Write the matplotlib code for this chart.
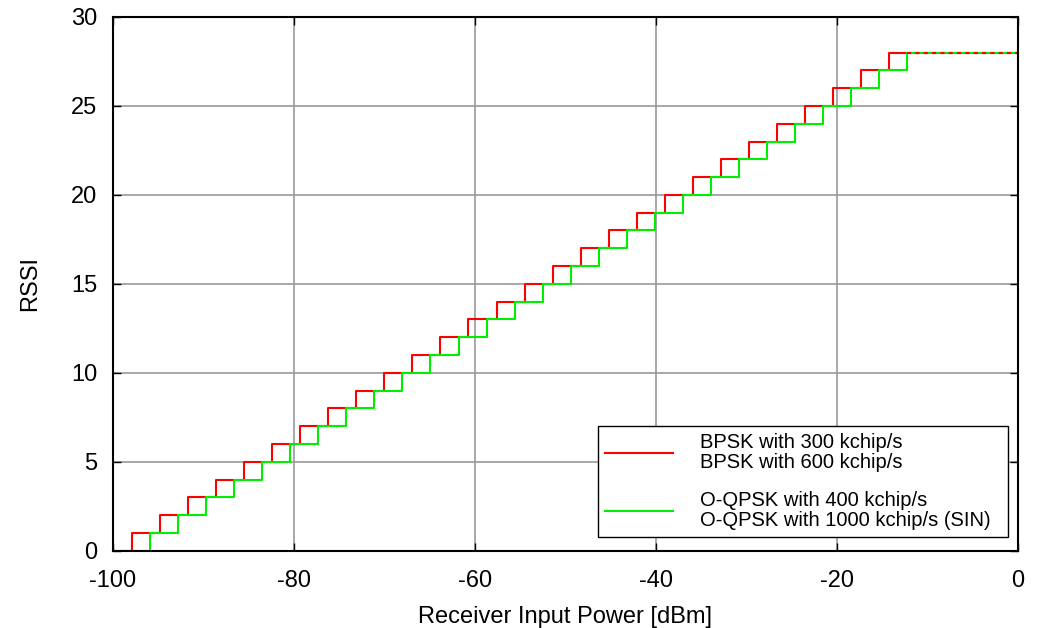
import matplotlib
matplotlib.use('Agg')
import matplotlib.pyplot as plt

plt.rcParams['font.family'] = ['Liberation Sans', 'DejaVu Sans']
plt.rcParams['axes.unicode_minus'] = False

# RSSI levels and the input power (dBm) where each level is first reached
rssi_levels = list(range(0, 29))
bpsk_steps = [-97.9, -94.8, -91.7, -88.6, -85.5, -82.4, -79.3, -76.2, -73.1, -70.0,
              -66.9, -63.8, -60.7, -57.6, -54.5, -51.4, -48.3, -45.2, -42.1, -39.0,
              -35.9, -32.8, -29.7, -26.6, -23.5, -20.4, -17.3, -14.2]
oqpsk_steps = [-95.9, -92.8, -89.7, -86.6, -83.5, -80.4, -77.3, -74.2, -71.1, -68.0,
               -64.9, -61.8, -58.7, -55.6, -52.5, -49.4, -46.3, -43.2, -40.1, -37.0,
               -33.9, -30.8, -27.7, -24.6, -21.5, -18.4, -15.3, -12.2]
x_min, x_max = -100, 0

bpsk_label = 'BPSK with 300 kchip/s\nBPSK with 600 kchip/s'
oqpsk_label = 'O-QPSK with 400 kchip/s\nO-QPSK with 1000 kchip/s (SIN)'

fig = plt.figure(figsize=(10.44, 6.28), dpi=100)
ax = fig.add_axes([0.108, 0.123, 0.867, 0.850])

bx = [x_min] + bpsk_steps + [x_max]
gx = [x_min] + oqpsk_steps + [x_max]
ys = rssi_levels + [rssi_levels[-1]]

ax.step(bx, ys, where='post', color='#ff0000', lw=1.5, label=bpsk_label)
ax.step(gx, ys, where='post', color='#00ee00', lw=1.5, label=oqpsk_label)
# shared flat tail looks dashed red/green in the original
ax.plot([oqpsk_steps[-1], x_max], [rssi_levels[-1]] * 2, color='#ff0000', lw=1.5,
        dashes=(2, 2))

ax.set_xlim(x_min, x_max)
ax.set_ylim(0, 30)
ax.set_xticks(range(-100, 1, 20))
ax.set_yticks(range(0, 31, 5))
ax.grid(True, color='#999999', lw=1.2)
ax.set_axisbelow(True)
ax.tick_params(direction='in', length=6, width=1, top=True, right=True,
               labelsize=17, pad=14)
ax.tick_params(axis='y', pad=11)
for s in ax.spines.values():
    s.set_linewidth(1.5)

ax.set_xlabel('Receiver Input Power [dBm]', fontsize=17, labelpad=10)
ax.set_ylabel('RSSI', fontsize=17, labelpad=22)

leg = ax.legend(loc='lower left', bbox_to_anchor=(0.536, 0.026, 0.453, 0.2),
                mode='expand', borderaxespad=0, fancybox=False, edgecolor='black',
                framealpha=1, fontsize=14.5, handlelength=3.4, labelspacing=0.95,
                borderpad=0.35, handletextpad=1.3)
leg.get_frame().set_linewidth(1.0)
for t in leg.get_texts():
    t.set_linespacing(1.05)

fig.savefig('out.png', dpi=100)
